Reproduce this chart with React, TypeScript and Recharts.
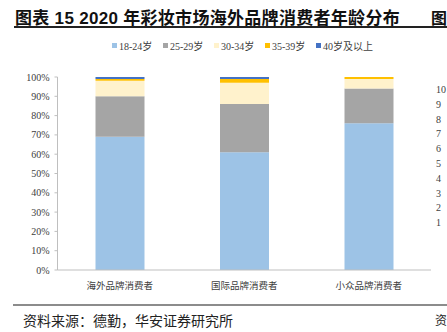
import React from 'react';
import { BarChart, Bar, XAxis, YAxis } from 'recharts';

const categories = ['海外品牌消费者', '国际品牌消费者', '小众品牌消费者'];
const age1824 = [69, 61, 76];
const age2529 = [21, 25, 18];
const age3034 = [8, 11, 5];
const age3539 = [1, 2, 1];
const age40 = [1, 1, 0];
const yTicks = [0, 10, 20, 30, 40, 50, 60, 70, 80, 90, 100];
// clipped tick labels of the next chart at the right edge
const sideTicks = ['10', '9', '8', '7', '6', '5', '4', '3', '2', '1'];

const series = [
  { key: 'a', name: '18-24岁', values: age1824, color: '#9DC3E6' },
  { key: 'b', name: '25-29岁', values: age2529, color: '#A5A5A5' },
  { key: 'c', name: '30-34岁', values: age3034, color: '#FFF2CC' },
  { key: 'd', name: '35-39岁', values: age3539, color: '#FFC000' },
  { key: 'e', name: '40岁及以上', values: age40, color: '#4472C4' },
];

const data = categories.map((name, i) => {
  const row: Record<string, string | number> = { name };
  series.forEach((s) => (row[s.key] = s.values[i]));
  return row;
});

const serif = '"Liberation Serif", "Noto Sans CJK SC", serif';

const App: React.FC = () => {
  return (
    <div style={{ position: 'absolute', left: 0, top: 0, width: 447, height: 332, overflow: 'hidden', background: '#fff' }}>
      <div style={{ position: 'absolute', left: 15, top: 4, fontSize: 17, letterSpacing: 0.3, fontWeight: 'bold', fontFamily: '"Liberation Sans", "Noto Sans CJK SC", sans-serif', color: '#111', whiteSpace: 'nowrap' }}>
        图表 15 2020 年彩妆市场海外品牌消费者年龄分布
      </div>
      <div style={{ position: 'absolute', left: 431, top: 5, fontSize: 16, fontWeight: 'bold', fontFamily: '"Noto Sans CJK SC", sans-serif', color: '#111' }}>图</div>
      <div style={{ position: 'absolute', left: 14, top: 26, width: 433, height: 1.5, background: '#222' }} />

      {/* legend */}
      <div style={{ position: 'absolute', left: 112, top: 38, display: 'flex', fontFamily: serif, fontSize: 10, color: '#404040' }}>
        {series.map((s) => (
          <div key={s.key} style={{ display: 'flex', alignItems: 'center', width: 51, flexShrink: 0 }}>
            <span style={{ width: 5, height: 5, background: s.color, marginRight: 2, display: 'inline-block', flexShrink: 0 }} />
            <span style={{ whiteSpace: 'nowrap' }}>{s.name}</span>
          </div>
        ))}
      </div>

      <div style={{ position: 'absolute', left: 0, top: 30 }}>
        <BarChart width={447} height={270} data={data} margin={{ top: 47, right: 16, left: 0, bottom: 0 }} barSize={49}>
          <XAxis
            dataKey="name"
            height={30}
            tickLine={false}
            tickMargin={6}
            axisLine={{ stroke: '#bfbfbf' }}
            tick={{ fontSize: 9.5, fill: '#404040', fontFamily: '"Noto Sans CJK SC", sans-serif' }}
          />
          <YAxis
            width={57.5}
            domain={[0, 100]}
            ticks={yTicks}
            tickFormatter={(v) => `${v}%`}
            tickSize={3}
            tickMargin={5}
            tickLine={{ stroke: '#bfbfbf' }}
            axisLine={{ stroke: '#bfbfbf' }}
            tick={{ fontSize: 10, fill: '#404040', fontFamily: serif }}
            interval={0}
          />
          {series.map((s) => (
            <Bar key={s.key} dataKey={s.key} name={s.name} stackId="x" fill={s.color} isAnimationActive={false} />
          ))}
        </BarChart>
      </div>

      {sideTicks.map((t, i) => (
        <div key={t} style={{ position: 'absolute', left: 436, top: 84 + i * 14.8, fontSize: 10, fontFamily: serif, color: '#404040' }}>{t}</div>
      ))}

      <div style={{ position: 'absolute', left: 13, top: 304, width: 434, height: 2, background: '#8c8c8c' }} />
      <div style={{ position: 'absolute', left: 23, top: 310, fontSize: 14, fontFamily: '"Noto Sans CJK SC", serif', color: '#222', whiteSpace: 'nowrap' }}>
        资料来源：德勤，华安证券研究所
      </div>
      <div style={{ position: 'absolute', left: 435, top: 311, fontSize: 12, fontFamily: '"Noto Sans CJK SC", serif', color: '#222' }}>资</div>
    </div>
  );
};

export default App;
